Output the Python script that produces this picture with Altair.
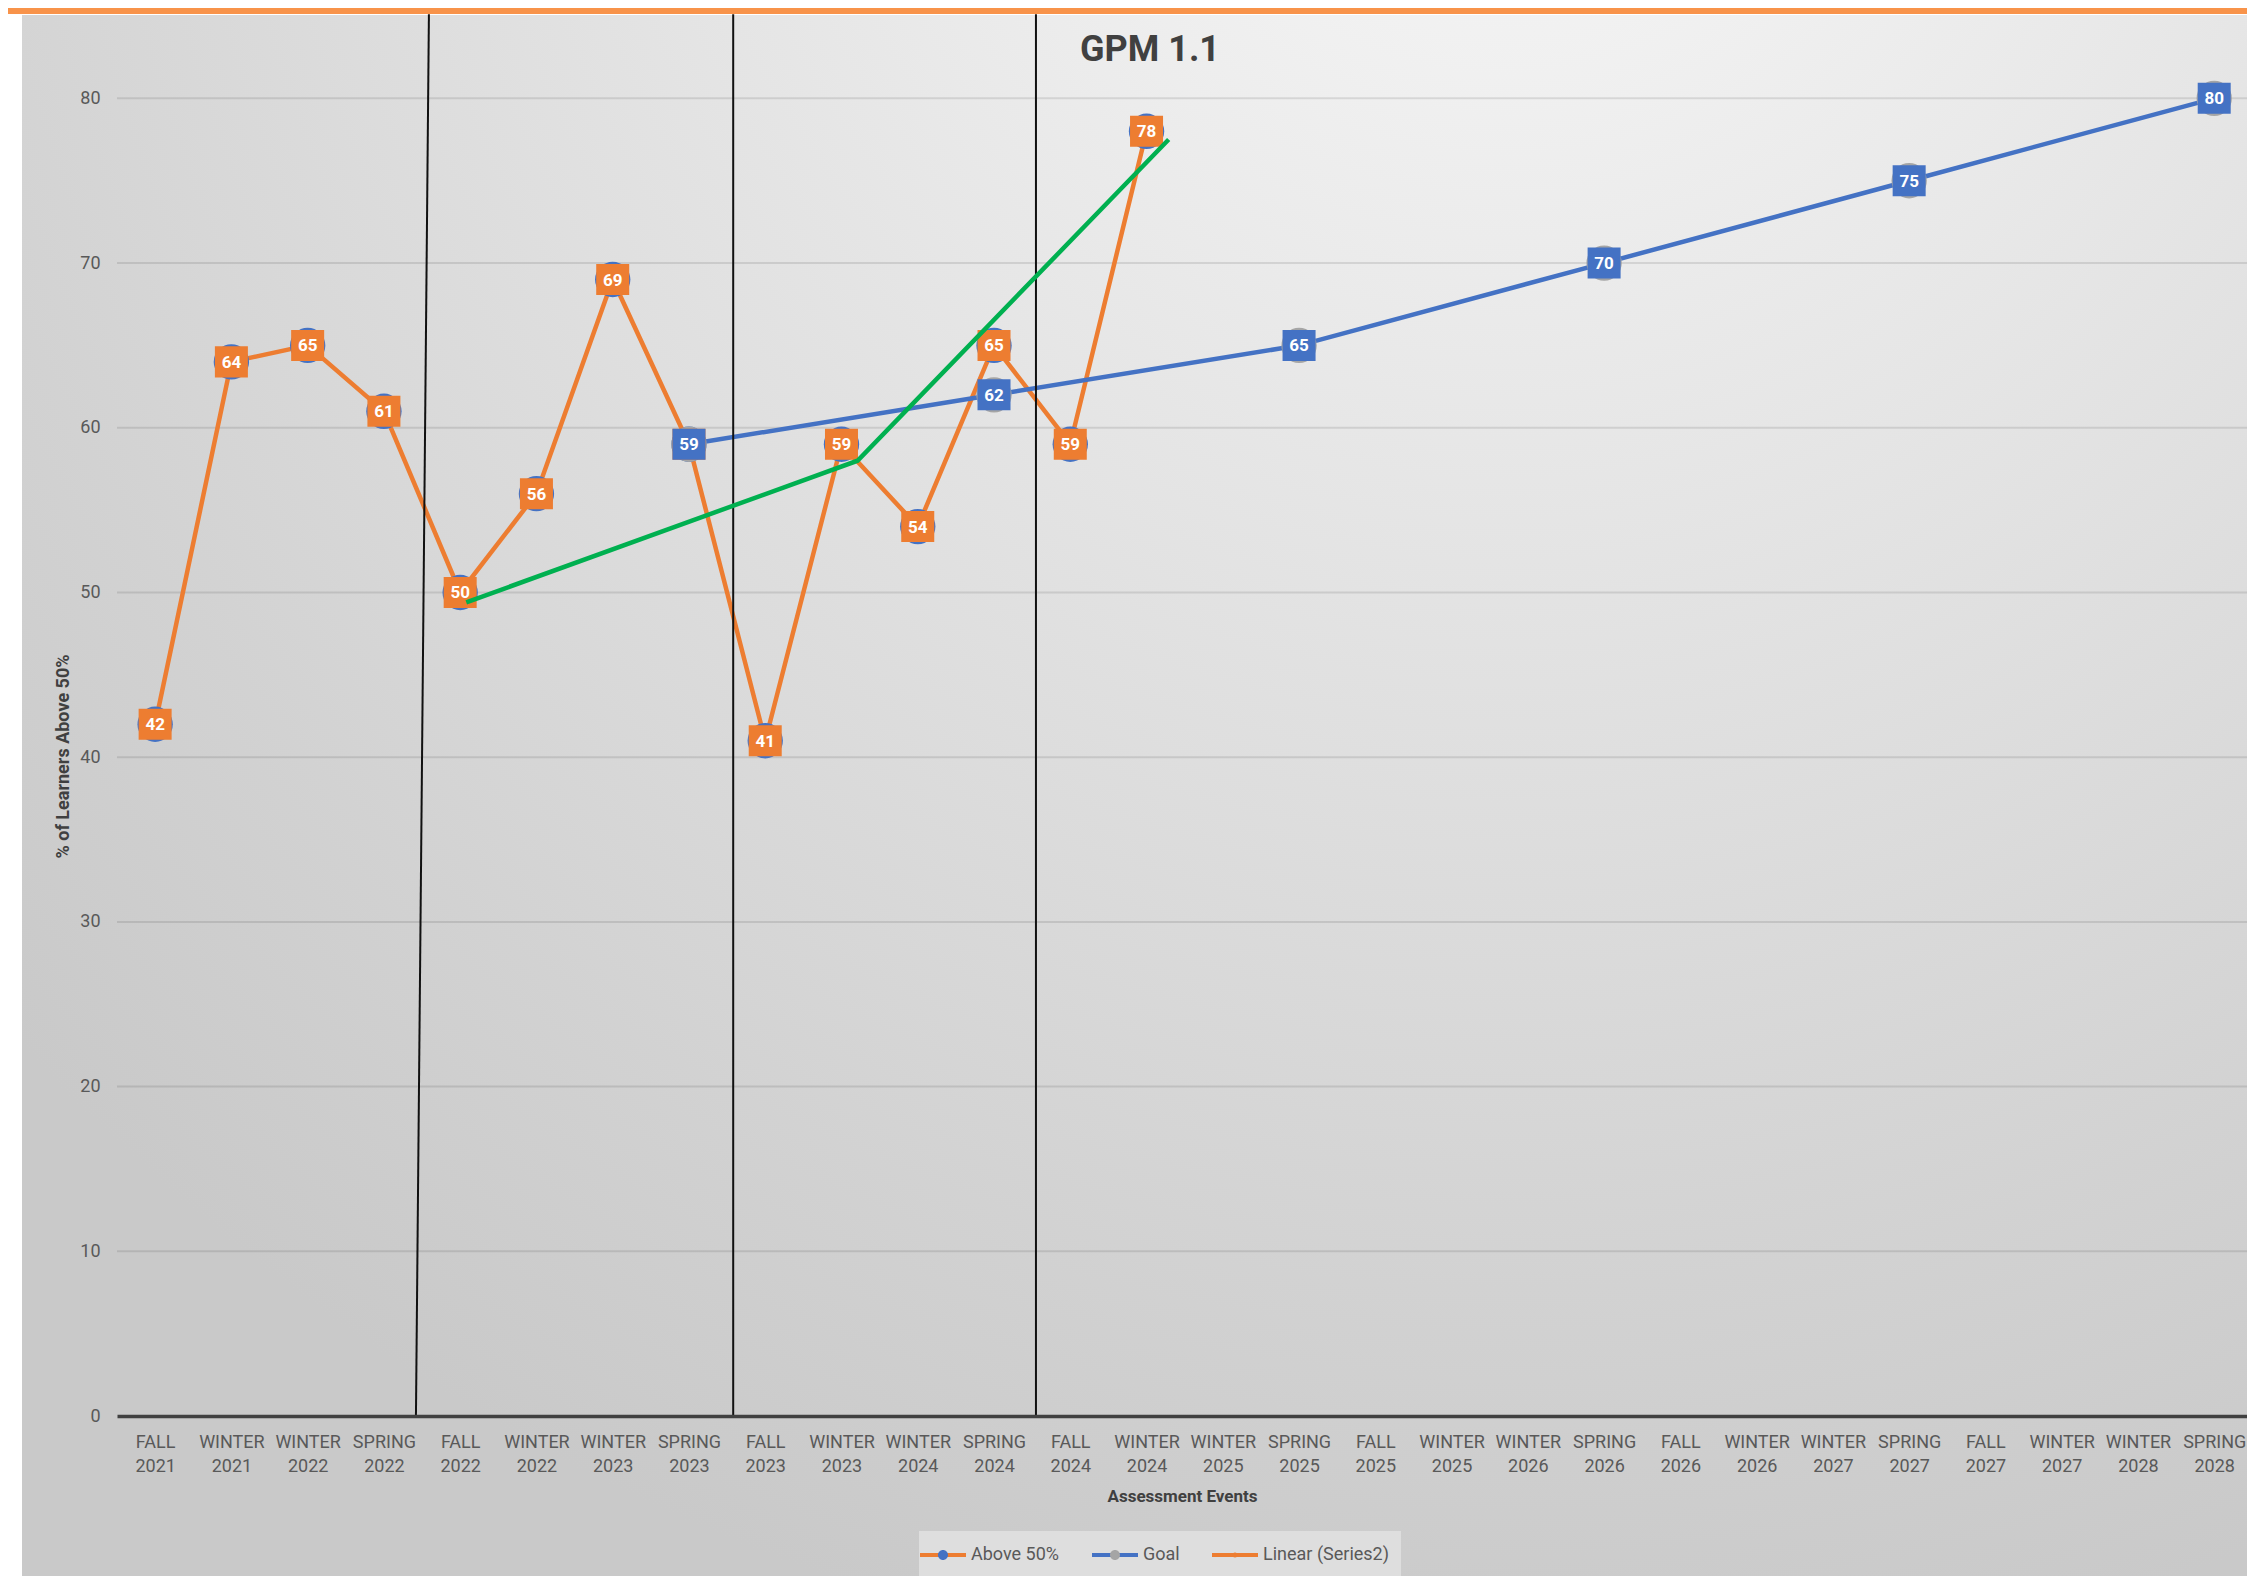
import altair as alt
import pandas as pd

# ---------------- data ----------------
seasons = ["FALL", "WINTER", "WINTER", "SPRING"] * 7
years = ["2021", "2021", "2022", "2022",
         "2022", "2022", "2023", "2023",
         "2023", "2023", "2024", "2024",
         "2024", "2024", "2025", "2025",
         "2025", "2025", "2026", "2026",
         "2026", "2026", "2027", "2027",
         "2027", "2027", "2028", "2028"]

above_vals = [42, 64, 65, 61, 50, 56, 69, 59, 41, 59, 54, 65, 59, 78]
goal_idx = [7, 11, 15, 19, 23, 27]
goal_vals = [59, 62, 65, 70, 75, 80]

trend_x = [4.08, 9.21, 13.29]
trend_y = [49.4, 58.0, 77.5]

sep_top_x = [3.59, 7.58, 11.55]
sep_bot_x = [3.42, 7.58, 11.55]

grid_vals = [10, 20, 30, 40, 50, 60, 70, 80]
series_names = ["Above 50%", "Goal", "Linear (Series2)"]

# ---------------- style ----------------
ORANGE = "#ED7D31"
BLUE = "#4472C4"
GREY = "#A5A5A5"
GREEN = "#00B050"
TXT = "#595959"
F = "Roboto"
W, H = 2130, 1400

rows = [{"x": i, "y": v, "series": "Above 50%"} for i, v in enumerate(above_vals)]
rows += [{"x": i, "y": v, "series": "Goal"} for i, v in zip(goal_idx, goal_vals)]
pts = pd.DataFrame(rows)
pts["fkey"] = "f:" + pts["series"]
trend = pd.DataFrame({"x": trend_x, "y": trend_y})
seps = pd.DataFrame({"x": sep_top_x, "x2": sep_bot_x})
grid = pd.DataFrame({"y": grid_vals})
one = pd.DataFrame({"a": [0]})

label_js = "[" + ",".join("['%s','%s']" % (s, y) for s, y in zip(seasons, years)) + "][datum.value]"

xscale = alt.Scale(domain=[-0.5, 27.43], nice=False, zero=False)
yscale = alt.Scale(domain=[0, 85], nice=False, zero=False)

xaxis = alt.Axis(
    values=list(range(len(seasons))), labelExpr=label_js, title="Assessment Events",
    labelFont=F, labelFontSize=18, labelColor=TXT, labelLineHeight=24, labelPadding=17,
    labelOverlap=False, labelFlush=False, labelBound=False, ticks=False, grid=False,
    domainColor="#404040", domainWidth=3.5, titleFont=F, titleFontSize=17,
    titleFontWeight="bold", titleColor="#404040", titleY=80, titleBaseline="middle",
    zindex=1,
)
yaxis = alt.Axis(
    values=[0, 10, 20, 30, 40, 50, 60, 70, 80], title="% of Learners Above 50%",
    labelFont=F, labelFontSize=18, labelColor=TXT, labelPadding=17, ticks=False,
    domain=False, grid=False, titleFont=F, titleFontSize=18, titleFontWeight="bold",
    titleColor="#404040", titleAngle=270, titleX=-54, titleY=740,
    titleBaseline="middle", titleAlign="center", zindex=1,
)


def X(field="x"):
    return alt.X(field + ":Q", scale=xscale, axis=xaxis)


def Y(field="y"):
    return alt.Y(field + ":Q", scale=yscale, axis=yaxis)


bg = alt.Chart(one).mark_rect(
    fill={
        "gradient": "radial",
        "x1": 0.66, "y1": 0.0, "r1": 0.0,
        "x2": 0.66, "y2": 0.0, "r2": 0.9,
        "stops": [
            {"offset": 0.0, "color": "#f9f9f9"},
            {"offset": 0.2, "color": "#f0f0f0"},
            {"offset": 0.4, "color": "#e6e6e6"},
            {"offset": 0.6, "color": "#dcdcdc"},
            {"offset": 0.8, "color": "#d2d2d2"},
            {"offset": 1.0, "color": "#c9c9c9"},
        ],
    }
).encode(x=alt.value(-95), x2=alt.value(W + 20), y=alt.value(-1), y2=alt.value(H + 160))

band = alt.Chart(one).mark_rect(fill="#F8934A").encode(
    x=alt.value(-120), x2=alt.value(W + 20), y=alt.value(-8), y2=alt.value(-2)
)

gridlines = alt.Chart(grid).mark_rule(color="#000000", opacity=0.1, strokeWidth=2).encode(
    y=Y(), x=alt.value(0), x2=alt.value(W)
)

LEG = dict(
    orient="none", legendX=802, legendY=1515, direction="horizontal", title=None,
    symbolSize=400, symbolStrokeWidth=4, labelFont=F, labelFontSize=18, labelOffset=16,
    columnPadding=24, padding=12, labelColor=TXT,
)

line_path = "M-2.3,0 L2.3,0 M-0.05,0 A0.05,0.05 0 1,0 0.05,0 A0.05,0.05 0 1,0 -0.05,0 Z"
lines = alt.Chart(pts).mark_line(strokeWidth=4.5).encode(
    x=X(), y=Y(),
    color=alt.Color(
        "series:N",
        scale=alt.Scale(domain=series_names, range=[ORANGE, BLUE, ORANGE]),
        legend=alt.Legend(symbolType=line_path, symbolFillColor="transparent",
                          fillColor="#dedede", **LEG),
    ),
)

circ_path = "M-2.3,0 L2.3,0 M-0.5,0 A0.5,0.5 0 1,0 0.5,0 A0.5,0.5 0 1,0 -0.5,0 Z"
circles = alt.Chart(pts).mark_point(filled=True, shape="circle", size=1250, opacity=1, strokeWidth=0).encode(
    x=X(), y=Y(),
    fill=alt.Fill(
        "fkey:N",
        scale=alt.Scale(domain=["f:" + s for s in series_names], range=[BLUE, GREY, "transparent"]),
        legend=alt.Legend(symbolType=circ_path, symbolStrokeColor="transparent",
                          labelOpacity=0, labelExpr="slice(datum.label, 2)", **LEG),
    ),
)

box_path = "M-1,-0.94 L1,-0.94 L1,0.94 L-1,0.94 Z"


def labels(series, color):
    base = alt.Chart(pts).transform_filter(alt.datum.series == series)
    sq = base.mark_point(filled=True, shape=box_path, size=1089, opacity=1, color=color, strokeWidth=0).encode(
        x=X(), y=Y()
    )
    tx = base.mark_text(font=F, fontSize=17, fontWeight="bold", color="white", baseline="middle", dy=1).encode(
        x=X(), y=Y(), text=alt.Text("y:Q", format="d")
    )
    return sq + tx


rules = alt.Chart(seps).mark_rule(color="#111111", strokeWidth=2).encode(
    x=X(), x2="x2:Q", y=alt.Y(datum=85.1, scale=yscale, axis=yaxis), y2=alt.datum(0)
)

green = alt.Chart(trend).mark_line(color=GREEN, strokeWidth=4.5).encode(x=X(), y=Y())

title = alt.Chart(one).mark_text(
    text="GPM 1.1", font=F, fontSize=36, fontWeight="bold", color="#404040",
    align="center", baseline="alphabetic",
).encode(x=alt.value(1033), y=alt.value(45))

chart = alt.layer(
    bg, band, gridlines, lines, circles,
    labels("Above 50%", ORANGE), labels("Goal", BLUE),
    rules, green, title,
).properties(
    width=W, height=H,
    autosize=alt.AutoSizeParams(type="none"),
    padding={"left": 109, "top": 8, "right": 0, "bottom": 160},
    background="white",
).configure_view(stroke=None)

chart.save("out.html", embed_options={"renderer": "svg", "actions": False})
